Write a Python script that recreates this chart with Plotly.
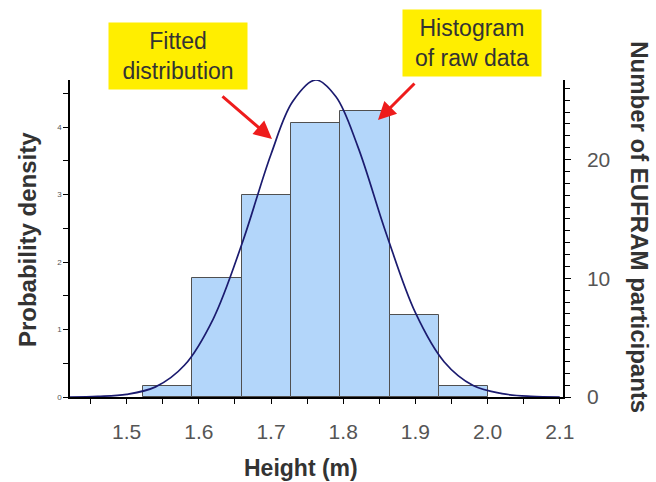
import plotly.graph_objects as go

# ---- data ----
bin_edges = [1.523, 1.591, 1.660, 1.728, 1.796, 1.865, 1.933, 2.001]
bar_density = [0.16, 1.76, 2.99, 4.06, 4.24, 1.21, 0.16]

curve_x = [1.42, 1.46, 1.50, 1.54, 1.58, 1.62, 1.66, 1.70, 1.73, 1.762,
           1.79, 1.82, 1.86, 1.90, 1.94, 1.98, 2.02, 2.06, 2.10]
curve_y = [0.00, 0.01, 0.04, 0.15, 0.47, 1.16, 2.28, 3.60, 4.38, 4.70,
           4.45, 3.72, 2.41, 1.25, 0.52, 0.17, 0.05, 0.01, 0.00]

count_ticks = [0, 10, 20]
density_ticks = [0, 1, 2, 3, 4]
x_ticks = [1.5, 1.6, 1.7, 1.8, 1.9, 2.0, 2.1]

FONT = "Liberation Sans, Arial, sans-serif"

bar_x = [(a + b) / 2 for a, b in zip(bin_edges[:-1], bin_edges[1:])]
bar_w = [b - a for a, b in zip(bin_edges[:-1], bin_edges[1:])]

fig = go.Figure()
fig.add_trace(go.Bar(
    x=bar_x, y=bar_density, width=bar_w,
    marker=dict(color="#B3D6FA", line=dict(color="#505050", width=1)),
    showlegend=False, hoverinfo="skip"))
fig.add_trace(go.Scatter(
    x=curve_x, y=curve_y, mode="lines",
    line=dict(color="#1B1B6F", width=1.7, shape="spline", smoothing=1.0),
    showlegend=False, hoverinfo="skip"))
# invisible trace to activate the right axis
fig.add_trace(go.Scatter(x=[1.5], y=[0], yaxis="y2", mode="markers",
                         marker=dict(opacity=0), showlegend=False,
                         hoverinfo="skip"))

fig.update_layout(
    width=656, height=482,
    margin=dict(l=70, r=93, t=80, b=85),
    paper_bgcolor="white", plot_bgcolor="white",
    font=dict(family=FONT, color="#444"),
    bargap=0,
    xaxis=dict(
        range=[1.4215, 2.1045], tickvals=x_ticks,
        ticktext=[f"{v:.1f}" for v in x_ticks],
        ticks="outside", ticklen=5, tickcolor="black", tickwidth=1,
        minor=dict(dtick=0.05, tick0=1.45, ticks="outside", ticklen=5,
                   tickcolor="black"),
        showline=True, linecolor="black", linewidth=1.5,
        showgrid=False, zeroline=False,
        tickfont=dict(size=21, color="#555"),
        ticklabelstandoff=10,
    ),
    yaxis=dict(
        range=[0, 4.70], tickvals=density_ticks,
        ticks="outside", ticklen=5, tickcolor="black",
        minor=dict(dtick=0.5, tick0=0, ticks="outside", ticklen=5,
                   tickcolor="black"),
        showline=True, linecolor="black", linewidth=1.5,
        showgrid=False, zeroline=False,
        tickfont=dict(size=8, color="#555"),
    ),
    yaxis2=dict(
        overlaying="y", side="right",
        range=[0, 26.7], tickvals=count_ticks,
        ticks="outside", ticklen=6, tickcolor="black",
        minor=dict(dtick=1, tick0=0, ticks="outside", ticklen=5,
                   tickcolor="black"),
        showline=True, linecolor="black", linewidth=1.5,
        showgrid=False, zeroline=False,
        tickfont=dict(size=21, color="#555"),
        ticklabelstandoff=12,
    ),
)

annotations = [
    dict(text="<b>Height (m)</b>", x=0.4686, y=-0.224, xref="paper",
         yref="paper", showarrow=False, xanchor="center", yanchor="middle",
         font=dict(size=23, color="#333")),
    dict(text="<b>Probability density</b>", x=-0.0872, y=0.495,
         xref="paper", yref="paper", showarrow=False, textangle=-90,
         xanchor="center", yanchor="middle",
         font=dict(size=24, color="#333")),
    dict(text="<b>Number of EUFRAM participants</b>", x=1.156, y=0.536,
         xref="paper", yref="paper", showarrow=False, textangle=90,
         xanchor="center", yanchor="middle",
         font=dict(size=24, color="#333")),
    dict(text="Fitted<br>distribution", x=0.2191, y=1.0757, xref="paper",
         yref="paper", showarrow=False, xanchor="center", yanchor="middle",
         bgcolor="#FFEE00", width=130, height=58, borderpad=4,
         font=dict(size=23, color="#333")),
    dict(text="Histogram<br>of raw data", x=0.8148, y=1.1167, xref="paper",
         yref="paper", showarrow=False, xanchor="center", yanchor="middle",
         bgcolor="#FFEE00", width=130, height=58, borderpad=4,
         font=dict(size=23, color="#333")),
    dict(text="", x=0.4097, y=0.8139, xref="paper", yref="paper",
         showarrow=True, ax=-51, ay=-44, arrowhead=2, arrowsize=1.2,
         arrowwidth=3, arrowcolor="#EE1C1C", standoff=0),
    dict(text="", x=0.6247, y=0.8738, xref="paper", yref="paper",
         showarrow=True, ax=38, ay=-38, arrowhead=2, arrowsize=1.2,
         arrowwidth=3, arrowcolor="#EE1C1C", standoff=0),
]
fig.update_layout(annotations=annotations)

fig.write_html("out.html")
